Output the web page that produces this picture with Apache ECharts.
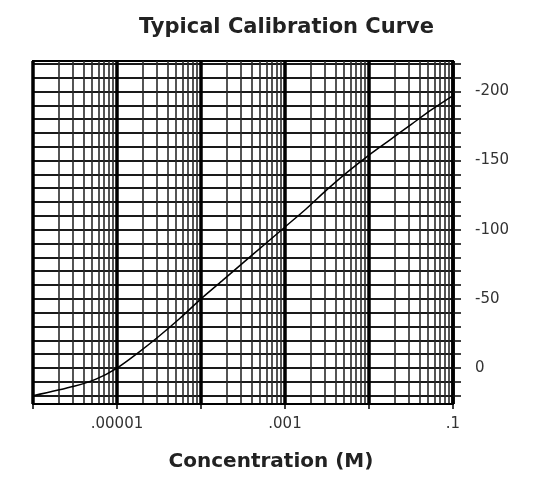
<!DOCTYPE html>
<html><head><meta charset="utf-8">
<script src="https://cdn.jsdelivr.net/npm/echarts@6/dist/echarts.min.js"></script>
<style>html,body{margin:0;padding:0;background:#fff}#c{width:535px;height:481px}</style>
</head><body><div id="c"></div>
<script>
// Calibration data (concentration in M, potential in mV)
const concentration = [1e-6, 3.16e-6, 5.62e-6, 1e-5, 1.78e-5, 3.16e-5, 5.62e-5, 1e-4, 1.78e-4, 3.16e-4, 5.62e-4, 1e-3, 1.78e-3, 3.16e-3, 5.62e-3, 1e-2, 1.78e-2, 3.16e-2, 5.62e-2, 1e-1];
const potential = [20, 13, 8, 0, -11, -23, -36, -50, -63, -76, -89, -102, -115, -129, -142, -154, -165, -176, -187, -197];

// Tick labels
const xLabelValues = [1e-5, 1e-3, 1e-1];
const xLabelTexts = ['.00001', '.001', '.1'];
const yLabelValues = [-200, -150, -100, -50, 0];
const yGridValues = [-220, -210, -200, -190, -180, -170, -160, -150, -140, -130, -120, -110, -100, -90, -80, -70, -60, -50, -40, -30, -20, -10, 0, 10, 20];
const decades = [-6, -5, -4, -3, -2];
const minorMantissas = [2, 3, 4, 5, 6, 7, 8, 9];

const minorLogValues = [];
decades.forEach(d => minorMantissas.forEach(m => minorLogValues.push(d + Math.log10(m))));

const chart = echarts.init(document.getElementById('c'), null, {renderer: 'canvas'});
chart.setOption({
  animation: false,
  backgroundColor: '#fff',
  title: {
    text: 'Typical Calibration Curve',
    left: 134, top: 12,
    textStyle: {fontFamily: 'DejaVu Sans', fontWeight: 'bold', fontSize: 21, color: '#222'}
  },
  grid: {left: 33, right: 82, top: 61, bottom: 77, show: true, borderColor: '#000', borderWidth: 2, backgroundColor: 'transparent'},
  xAxis: [
    {
      type: 'value', min: -6, max: -1, position: 'bottom',
      axisLine: {show: false},
      axisLabel: {show: false},
      axisTick: {show: false, customValues: minorLogValues},
      splitLine: {show: true, lineStyle: {color: '#2a2a2a', width: 1.6}}
    },
    {
      type: 'log', logBase: 10, min: 1e-6, max: 1e-1, splitNumber: 5, position: 'bottom',
      axisLine: {show: true, lineStyle: {color: '#000', width: 2}},
      axisTick: {show: true, length: 5, lineStyle: {color: '#000', width: 1.5}},
      splitLine: {show: true, lineStyle: {color: '#000', width: 3.5}},
      axisLabel: {
        margin: 13, fontFamily: 'DejaVu Sans', fontSize: 15, color: '#333',
        formatter: function (v) {
          const i = xLabelValues.findIndex(t => Math.abs(Math.log10(t) - Math.log10(v)) < 1e-6);
          return i >= 0 ? xLabelTexts[i] : '';
        }
      },
      name: 'Concentration (M)', nameLocation: 'middle', nameGap: 48,
      nameTextStyle: {fontFamily: 'DejaVu Sans', fontWeight: 'bold', fontSize: 20, color: '#222', padding: [0, 0, 0, 56]}
    }
  ],
  yAxis: {
    type: 'value', position: 'right', inverse: true, min: -222, max: 26,
    axisLine: {show: true, lineStyle: {color: '#000', width: 2}},
    axisTick: {show: true, length: 8, customValues: yGridValues, lineStyle: {color: '#111', width: 1.6}},
    axisLabel: {customValues: yLabelValues, margin: 22, fontFamily: 'DejaVu Sans', fontSize: 15, color: '#333'},
    splitLine: {show: true, lineStyle: {color: '#1a1a1a', width: 1.8}}
  },
  series: [{
    type: 'line', xAxisIndex: 1, yAxisIndex: 0,
    data: concentration.map((c, i) => [c, potential[i]]),
    smooth: 0.3, showSymbol: false, z: 10,
    lineStyle: {color: '#000', width: 1.5}
  }]
});
</script></body></html>
